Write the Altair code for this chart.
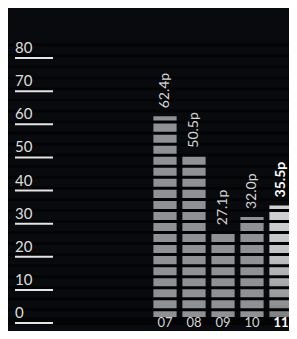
import altair as alt
import pandas as pd
import numpy as np

years = ["07", "08", "09", "10", "11"]
values = [62.4, 50.5, 27.1, 32.0, 35.5]
value_labels = ["62.4p", "50.5p", "27.1p", "32.0p", "35.5p"]
y_ticks = [0, 10, 20, 30, 40, 50, 60, 70, 80]
y_tick_labels = ["0", "10", "20", "30", "40", "50", "60", "70", "80"]

W, H = 281, 323
PX_PER_UNIT = 265 / 80
ZERO_Y = 315
y_dom = [(ZERO_Y - H) / PX_PER_UNIT, ZERO_Y / PX_PER_UNIT]
BAR_X0, PITCH = 157, 29
x_dom = [-BAR_X0 / PITCH, (W - BAR_X0) / PITCH]

BG = "#080a0d"
GAP = "#030405"
FONT = "Lato"

df = pd.DataFrame({"year": years, "value": values, "label": value_labels})
df["idx"] = range(len(df))
df["x0"] = df["idx"] - 0.4
df["x1"] = df["idx"] + 0.4
df["hl"] = df["idx"] == len(df) - 1

step = 10 / 3
centers = 3.98 + step * np.arange(-1, 25)
stripes = pd.DataFrame({"y0": centers - 0.45, "y1": centers + 0.45})
stripes.loc[0, "y0"] = -0.6
stripes.loc[0, "y1"] = 1.8

ticks = pd.DataFrame({"v": y_ticks, "t": y_tick_labels})

xs = alt.Scale(domain=x_dom, nice=False, zero=False)
ys = alt.Scale(domain=y_dom, nice=False, zero=False)

base = alt.Chart(df)
norm = base.transform_filter("!datum.hl")
hl = base.transform_filter("datum.hl")

bars = norm.mark_rect(color="#909194").encode(
    x=alt.X("x0:Q", scale=xs, axis=None), x2="x1:Q",
    y=alt.Y("value:Q", scale=ys, axis=None), y2=alt.datum(0),
)
grad = alt.Gradient(
    gradient="linear", x1=0, y1=0, x2=0, y2=1,
    stops=[
        alt.GradientStop(color="#d0d1d3", offset=0),
        alt.GradientStop(color="#c3c4c6", offset=0.4),
        alt.GradientStop(color="#aaabad", offset=0.65),
        alt.GradientStop(color="#8e8f91", offset=0.85),
        alt.GradientStop(color="#737476", offset=1),
    ],
)
bar_hl = hl.mark_rect(color=grad).encode(
    x=alt.X("x0:Q", scale=xs, axis=None), x2="x1:Q",
    y=alt.Y("value:Q", scale=ys, axis=None), y2=alt.datum(0),
)

stripe_layer = alt.Chart(stripes).mark_rect(color=GAP).encode(
    x=alt.value(0), x2=alt.value(W),
    y=alt.Y("y0:Q", scale=ys, axis=None), y2="y1:Q",
)

rules = alt.Chart(ticks).mark_rule(color="#e4e4e4", strokeWidth=2).encode(
    x=alt.value(7), x2=alt.value(45),
    y=alt.Y("v:Q", scale=ys, axis=None),
)
tick_text = alt.Chart(ticks).mark_text(
    color="#dedede", font=FONT, fontSize=15, align="left", baseline="alphabetic", dy=-5
).encode(
    x=alt.value(7), y=alt.Y("v:Q", scale=ys, axis=None), text="t:N",
)

def val_text(src, color, weight):
    return src.mark_text(
        angle=270, align="left", baseline="middle", dx=8, font=FONT, fontSize=14,
        color=color, fontWeight=weight,
    ).encode(
        x=alt.X("idx:Q", scale=xs, axis=None),
        y=alt.Y("value:Q", scale=ys, axis=None),
        text="label:N",
    )

def year_text(src, color, weight):
    return src.mark_text(
        baseline="middle", font=FONT, fontSize=13, color=color, fontWeight=weight,
    ).encode(
        x=alt.X("idx:Q", scale=xs, axis=None),
        y=alt.value(315),
        text="year:N",
    )

chart = alt.layer(
    bars, bar_hl, stripe_layer, rules, tick_text,
    val_text(norm, "#d6d6d6", "normal"), val_text(hl, "#ffffff", "bold"),
    year_text(norm, "#d6d6d6", "normal"), year_text(hl, "#ffffff", "bold"),
).properties(
    width=W, height=H, background=BG, padding=0,
    autosize=alt.AutoSizeParams(type="none"),
).configure_view(stroke=None, fill=BG)

chart.save("out.html", embed_options={"renderer": "svg", "actions": False})
